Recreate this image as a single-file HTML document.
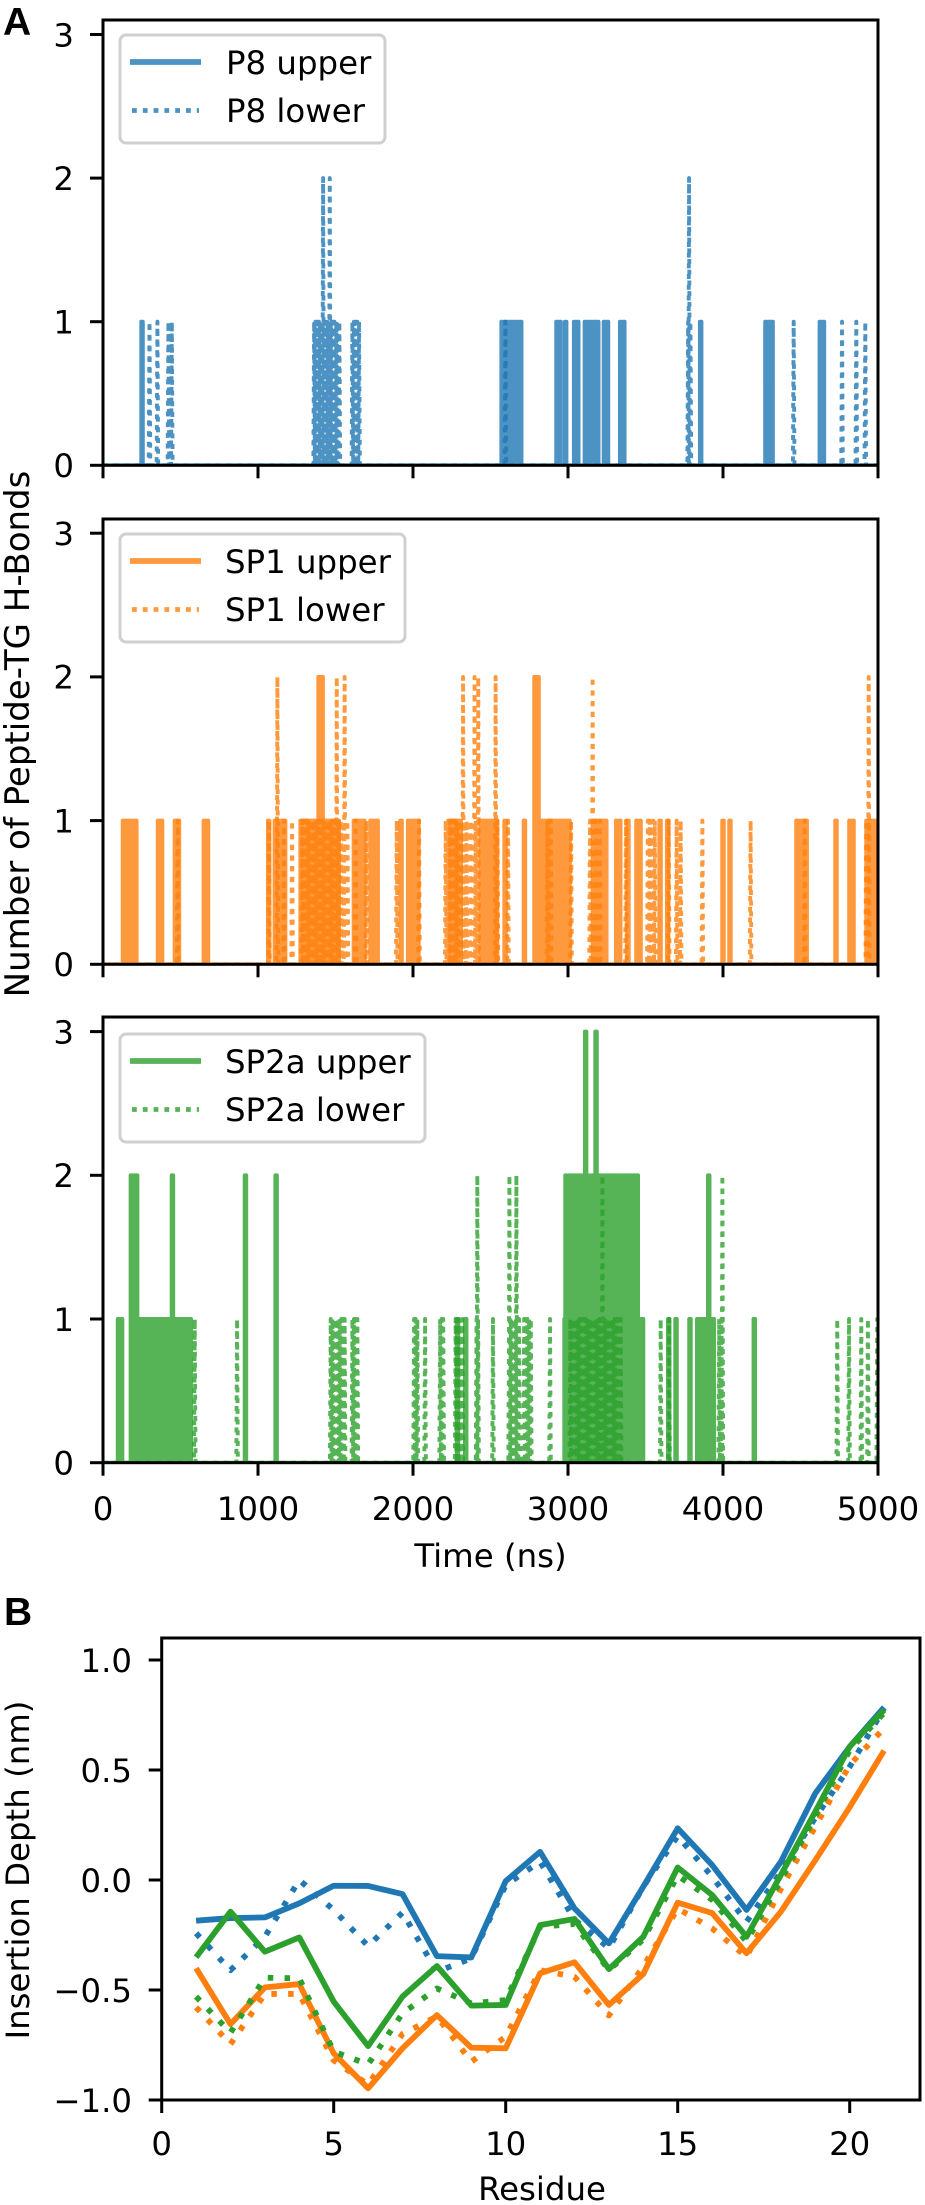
<!DOCTYPE html>
<html lang="en">
<head>
<meta charset="utf-8">
<title>Peptide-TG H-bonds and insertion depth</title>
<style>
html,body{margin:0;padding:0;background:#fff;}
svg{display:block;}
text{font-family:"DejaVu Sans","Liberation Sans",sans-serif;fill:#000;}
.panel-label{font-family:"Liberation Sans",sans-serif;font-weight:bold;font-size:39px;}
.lbl{font-size:32.4px;}
.ylab{font-size:34px;}
.frame{fill:none;stroke:#000;stroke-width:3;}
.legend-box{fill:#fff;fill-opacity:.8;stroke:#d0d0d0;stroke-width:3;}
.s{fill:none;stroke-linejoin:round;stroke-opacity:.8;}
.a{stroke-width:3.9;}
.dot{stroke-dasharray:5 5.7;}
.b{fill:none;stroke-linejoin:round;stroke-width:5.8;}
.bdot{stroke-dasharray:5.5 11.3;}
</style>
</head>
<body>
<svg id="figure" xmlns="http://www.w3.org/2000/svg" width="925" height="2205" viewBox="0 0 925 2205">
  <defs>
    <clipPath id="clip1"><rect x="103" y="20" width="775" height="445.3"/></clipPath>
    <clipPath id="clip2"><rect x="103" y="519" width="775" height="445.3"/></clipPath>
    <clipPath id="clip3"><rect x="103" y="1017" width="775" height="445.7"/></clipPath>
    <clipPath id="clip4"><rect x="161.7" y="1638" width="758.3" height="462"/></clipPath>
  </defs>

  <text class="panel-label" x="3" y="35">A</text>
  <text class="panel-label" x="4" y="1625">B</text>

  <g clip-path="url(#clip1)">
    <path id="p8-upper" class="s a" stroke="#1f77b4"/>
    <path id="p8-lower" class="s a dot" stroke="#1f77b4"/>
  </g>
  <g clip-path="url(#clip2)">
    <path id="sp1-upper" class="s a" stroke="#ff7f0e"/>
    <path id="sp1-lower" class="s a dot" stroke="#ff7f0e"/>
  </g>
  <g clip-path="url(#clip3)">
    <path id="sp2a-upper" class="s a" stroke="#2ca02c"/>
    <path id="sp2a-lower" class="s a dot" stroke="#2ca02c"/>
  </g>
  <g clip-path="url(#clip4)">
    <path id="depth-p8-upper" class="b" stroke="#1f77b4"/>
    <path id="depth-p8-lower" class="b bdot" stroke="#1f77b4"/>
    <path id="depth-sp1-upper" class="b" stroke="#ff7f0e"/>
    <path id="depth-sp1-lower" class="b bdot" stroke="#ff7f0e"/>
    <path id="depth-sp2a-upper" class="b" stroke="#2ca02c"/>
    <path id="depth-sp2a-lower" class="b bdot" stroke="#2ca02c"/>
  </g>

  <rect class="frame" x="103" y="20" width="775" height="445.3"/>
  <rect class="frame" x="103" y="519" width="775" height="445.3"/>
  <rect class="frame" x="103" y="1017" width="775" height="445.7"/>
  <rect class="frame" x="161.7" y="1638" width="758.3" height="462"/>

  <g id="ticks"></g>

  <g>
    <rect class="legend-box" x="120" y="35" width="265" height="108" rx="6"/>
    <line x1="130" x2="201" y1="62" y2="62" stroke="#1f77b4" stroke-opacity=".8" stroke-width="5.8"/>
    <text class="lbl" x="226" y="74">P8 upper</text>
    <line x1="132" x2="199" y1="110.5" y2="110.5" stroke="#1f77b4" stroke-opacity=".8" stroke-width="4.8" stroke-dasharray="4.8 6"/>
    <text class="lbl" x="226" y="122">P8 lower</text>
  </g>
  <g>
    <rect class="legend-box" x="120" y="534" width="285" height="108" rx="6"/>
    <line x1="130" x2="201" y1="561" y2="561" stroke="#ff7f0e" stroke-opacity=".8" stroke-width="5.8"/>
    <text class="lbl" x="225" y="573">SP1 upper</text>
    <line x1="132" x2="199" y1="609.5" y2="609.5" stroke="#ff7f0e" stroke-opacity=".8" stroke-width="4.8" stroke-dasharray="4.8 6"/>
    <text class="lbl" x="225" y="621">SP1 lower</text>
  </g>
  <g>
    <rect class="legend-box" x="120" y="1034" width="305" height="108" rx="6"/>
    <line x1="130" x2="201" y1="1061" y2="1061" stroke="#2ca02c" stroke-opacity=".8" stroke-width="5.8"/>
    <text class="lbl" x="225" y="1073">SP2a upper</text>
    <line x1="132" x2="199" y1="1109.5" y2="1109.5" stroke="#2ca02c" stroke-opacity=".8" stroke-width="4.8" stroke-dasharray="4.8 6"/>
    <text class="lbl" x="225" y="1121">SP2a lower</text>
  </g>

  <text class="ylab" text-anchor="middle" transform="translate(29,734) rotate(-90)">Number of Peptide-TG H-Bonds</text>
  <text class="lbl" text-anchor="middle" x="490.5" y="1567">Time (ns)</text>
  <text class="lbl" text-anchor="middle" transform="translate(29,1870) rotate(-90)">Insertion Depth (nm)</text>
  <text class="lbl" text-anchor="middle" x="542" y="2200">Residue</text>
</svg>

<script>
// ---- tick values ----
const timeTicks = [0, 1000, 2000, 3000, 4000, 5000];
const countTicks = [0, 1, 2, 3];
const residueTicks = [0, 5, 10, 15, 20];
const depthTicks = [-1.0, -0.5, 0.0, 0.5, 1.0];
const depthTickLabels = ['\u22121.0', '\u22120.5', '0.0', '0.5', '1.0'];

// ---- upper-leaflet H-bond bursts: [start ns, end ns, count] ----
const p8Upper = [[247,250,1],[2570,2703,1],[2924,2950,1],[2980,2990,1],[3038,3066,1],[3107,3193,1],[3230,3251,1],[3335,3356,1],[3851,3854,1],[4272,4324,1],[4623,4647,1]];
const sp1Upper = [[127,211,1],[353,380,1],[462,488,1],[649,688,1],[1064,1077,1],[1107,1172,1],[1273,1531,1],[1389,1423,2],[1617,1677,1],[1724,1780,1],[1918,1935,1],[1967,2038,1],[2240,2311,1],[2434,2537,1],[2589,2608,1],[2714,2731,1],[2782,3010,1],[2782,2808,2],[3159,3253,1],[3309,3344,1],[3382,3400,1],[3440,3473,1],[3589,3597,1],[3638,3647,1],[3995,4006,1],[4040,4049,1],[4472,4543,1],[4724,4737,1],[4814,4844,1],[4924,5000,1]];
const sp2aUpper = [[95,122,1],[178,570,1],[178,200,2],[212,230,2],[443,456,2],[914,929,2],[1112,1127,2],[2282,2299,1],[2335,2350,1],[2976,3477,1],[2982,3451,2],[3109,3112,3],[3176,3179,3],[3645,3660,1],[3692,3703,1],[3782,3793,1],[3832,3939,1],[3903,3914,2],[4197,4210,1]];

// ---- lower-leaflet H-bond spikes: [time ns, count] ----
const p8Lower = [[295,1],[346,1],[417,1],[428,1],[439,1],[1357,1],[1361,1],[1366,1],[1373,1],[1378,1],[1388,1],[1393,1],[1400,1],[1408,1],[1415,2],[1421,1],[1426,1],[1436,1],[1441,1],[1447,1],[1458,2],[1463,1],[1468,1],[1479,1],[1484,1],[1488,1],[1499,1],[1505,1],[1510,1],[1520,1],[1604,1],[1614,1],[1625,1],[1636,1],[1647,1],[2591,1],[3770,1],[3776,2],[3785,1],[4451,1],[4763,1],[4855,1],[4913,1]];
const sp1Lower = [[477,1],[1066,1],[1120,2],[1163,1],[1215,1],[1280,1],[1292,1],[1301,1],[1313,1],[1324,1],[1333,1],[1347,1],[1356,1],[1369,1],[1381,1],[1391,1],[1402,1],[1414,1],[1426,1],[1435,1],[1449,1],[1458,1],[1470,1],[1483,1],[1490,1],[1503,2],[1515,1],[1530,1],[1554,2],[1572,1],[1625,1],[1694,1],[1890,1],[2034,1],[2206,1],[2222,1],[2235,1],[2248,1],[2260,1],[2271,1],[2280,1],[2292,1],[2300,1],[2318,2],[2341,1],[2367,1],[2392,2],[2400,1],[2416,2],[2528,2],[2540,1],[2608,1],[2862,1],[2871,1],[2884,1],[3015,1],[3137,1],[3154,2],[3174,1],[3200,1],[3369,1],[3510,1],[3522,1],[3545,1],[3555,1],[3645,1],[3696,1],[3722,1],[3862,1],[4173,1],[4522,1],[4919,1],[4935,2]];
const sp2aLower = [[587,1],[860,1],[1464,1],[1475,1],[1486,1],[1498,1],[1511,1],[1522,1],[1533,1],[1545,1],[1554,1],[1604,1],[1614,1],[1625,1],[1636,1],[2002,1],[2012,1],[2023,1],[2073,1],[2170,1],[2180,1],[2190,1],[2270,1],[2290,1],[2313,1],[2405,1],[2410,2],[2415,1],[2511,1],[2615,1],[2617,2],[2626,1],[2636,1],[2648,1],[2658,1],[2662,2],[2670,1],[2679,1],[2712,1],[2722,1],[2733,1],[2744,1],[2755,1],[2879,1],[3010,1],[3022,1],[3035,1],[3048,1],[3060,1],[3071,1],[3085,1],[3097,1],[3110,1],[3122,1],[3135,1],[3146,1],[3160,1],[3173,1],[3185,1],[3198,1],[3217,2],[3226,1],[3235,1],[3248,1],[3260,1],[3272,1],[3285,1],[3296,1],[3310,1],[3322,1],[3335,1],[3593,1],[3647,1],[3970,1],[3985,1],[3991,2],[4732,1],[4808,1],[4887,1],[4930,1],[4990,1]];

// ---- insertion depth by residue (nm), residues 1..21 ----
const residues = [1,2,3,4,5,6,7,8,9,10,11,12,13,14,15,16,17,18,19,20,21];
const depthP8Upper = [-0.185,-0.173,-0.170,-0.106,-0.026,-0.027,-0.064,-0.346,-0.352,-0.005,0.128,-0.129,-0.288,-0.03,0.235,0.068,-0.136,0.083,0.394,0.606,0.785];
const depthP8Lower = [-0.242,-0.41,-0.258,0.0,-0.136,-0.30,-0.148,-0.417,-0.356,-0.023,0.083,-0.18,-0.31,-0.03,0.20,0.015,-0.19,0.036,0.283,0.515,0.78];
const depthSp1Upper = [-0.401,-0.655,-0.488,-0.473,-0.788,-0.947,-0.765,-0.614,-0.762,-0.765,-0.424,-0.374,-0.568,-0.427,-0.103,-0.15,-0.333,-0.144,0.09,0.331,0.588];
const depthSp1Lower = [-0.579,-0.746,-0.518,-0.518,-0.82,-0.93,-0.70,-0.62,-0.826,-0.712,-0.41,-0.44,-0.616,-0.393,-0.13,-0.22,-0.35,-0.04,0.243,0.523,0.69];
const depthSp2aUpper = [-0.351,-0.144,-0.326,-0.261,-0.553,-0.755,-0.53,-0.391,-0.571,-0.568,-0.205,-0.177,-0.405,-0.258,0.057,-0.068,-0.258,0.023,0.311,0.606,0.773];
const depthSp2aLower = [-0.53,-0.694,-0.444,-0.447,-0.78,-0.838,-0.606,-0.493,-0.561,-0.546,-0.212,-0.20,-0.41,-0.27,0.02,-0.09,-0.28,0.0,0.29,0.59,0.76];

// ---- axis functions ----
const FRAME_NS = 10;
function xTime(t){ return 103 + t * 0.155; }
function yCount1(c){ return 465.3 - c * 143.6; }
function yCount2(c){ return 964.3 - c * 143.7; }
function yCount3(c){ return 1462.7 - c * 143.7; }
function xResidue(r){ return 161.7 + r * 34.4; }
function yDepth(v){ return 1880 - v * 220; }

const SVG_NS = 'http://www.w3.org/2000/svg';
const ticksGroup = document.getElementById('ticks');

function pt(x, y){ return x.toFixed(2) + ' ' + y.toFixed(2); }

// Solid series: sweep each burst frame by frame, oscillating between 0 and its count.
function burstPath(bursts, y){
  const sorted = bursts.slice().sort(function(a, b){ return a[0] - b[0]; });
  let d = 'M' + pt(xTime(0), y(0));
  sorted.forEach(function(b){
    for (let t = b[0]; t <= b[1]; t += 2 * FRAME_NS) {
      d += 'L' + pt(xTime(t), y(0)) + 'L' + pt(xTime(t), y(b[2])) + 'L' + pt(xTime(t + FRAME_NS), y(b[2])) + 'L' + pt(xTime(t + FRAME_NS), y(0));
    }
  });
  return d + 'L' + pt(xTime(5000), y(0));
}

// Dotted series: one up-and-down excursion per spike.
function spikePath(spikes, y){
  const sorted = spikes.slice().sort(function(a, b){ return a[0] - b[0]; });
  let d = 'M' + pt(xTime(0), y(0));
  sorted.forEach(function(s){
    d += 'L' + pt(xTime(s[0]), y(0)) + 'L' + pt(xTime(s[0] + FRAME_NS / 2), y(s[1])) + 'L' + pt(xTime(s[0] + FRAME_NS), y(0));
  });
  return d + 'L' + pt(xTime(5000), y(0));
}

function depthPath(values){
  return values.map(function(v, i){
    return (i ? 'L' : 'M') + pt(xResidue(residues[i]), yDepth(v));
  }).join('');
}

document.getElementById('p8-upper').setAttribute('d', burstPath(p8Upper, yCount1));
document.getElementById('p8-lower').setAttribute('d', spikePath(p8Lower, yCount1));
document.getElementById('sp1-upper').setAttribute('d', burstPath(sp1Upper, yCount2));
document.getElementById('sp1-lower').setAttribute('d', spikePath(sp1Lower, yCount2));
document.getElementById('sp2a-upper').setAttribute('d', burstPath(sp2aUpper, yCount3));
document.getElementById('sp2a-lower').setAttribute('d', spikePath(sp2aLower, yCount3));
document.getElementById('depth-p8-upper').setAttribute('d', depthPath(depthP8Upper));
document.getElementById('depth-p8-lower').setAttribute('d', depthPath(depthP8Lower));
document.getElementById('depth-sp1-upper').setAttribute('d', depthPath(depthSp1Upper));
document.getElementById('depth-sp1-lower').setAttribute('d', depthPath(depthSp1Lower));
document.getElementById('depth-sp2a-upper').setAttribute('d', depthPath(depthSp2aUpper));
document.getElementById('depth-sp2a-lower').setAttribute('d', depthPath(depthSp2aLower));

function makeTick(x1, y1, x2, y2){
  const el = document.createElementNS(SVG_NS, 'line');
  el.setAttribute('x1', x1);
  el.setAttribute('y1', y1);
  el.setAttribute('x2', x2);
  el.setAttribute('y2', y2);
  el.setAttribute('stroke', '#000');
  el.setAttribute('stroke-width', '3');
  ticksGroup.appendChild(el);
  return el;
}
function makeLabel(x, y, anchor, content){
  const el = document.createElementNS(SVG_NS, 'text');
  el.setAttribute('x', x);
  el.setAttribute('y', y);
  el.setAttribute('text-anchor', anchor);
  el.setAttribute('class', 'lbl');
  el.textContent = content;
  ticksGroup.appendChild(el);
  return el;
}

[yCount1, yCount2, yCount3].forEach(function(y, panel){
  countTicks.forEach(function(c){
    const tick = makeTick(90, y(c), 103, y(c));
    
    
    const label = makeLabel(74, y(c) + 11.8, 'end', String(c));
    
    
  });
  timeTicks.forEach(function(t){
    const tick = makeTick(xTime(t), y(0), xTime(t), y(0) + 13);
    
    
    if (panel === 2) {
      const label = makeLabel(xTime(t), 1520, 'middle', String(t));
      
      
    }
  });
});

residueTicks.forEach(function(r){
  const tick = makeTick(xResidue(r), 2100, xResidue(r), 2113);
  
  
  const label = makeLabel(xResidue(r), 2155, 'middle', String(r));
  
  
});

depthTicks.forEach(function(v, i){
  const tick = makeTick(148.7, yDepth(v), 161.7, yDepth(v));
  
  
  const label = makeLabel(132, yDepth(v) + 11.8, 'end', depthTickLabels[i]);
  
  
});
</script>
</body>
</html>
